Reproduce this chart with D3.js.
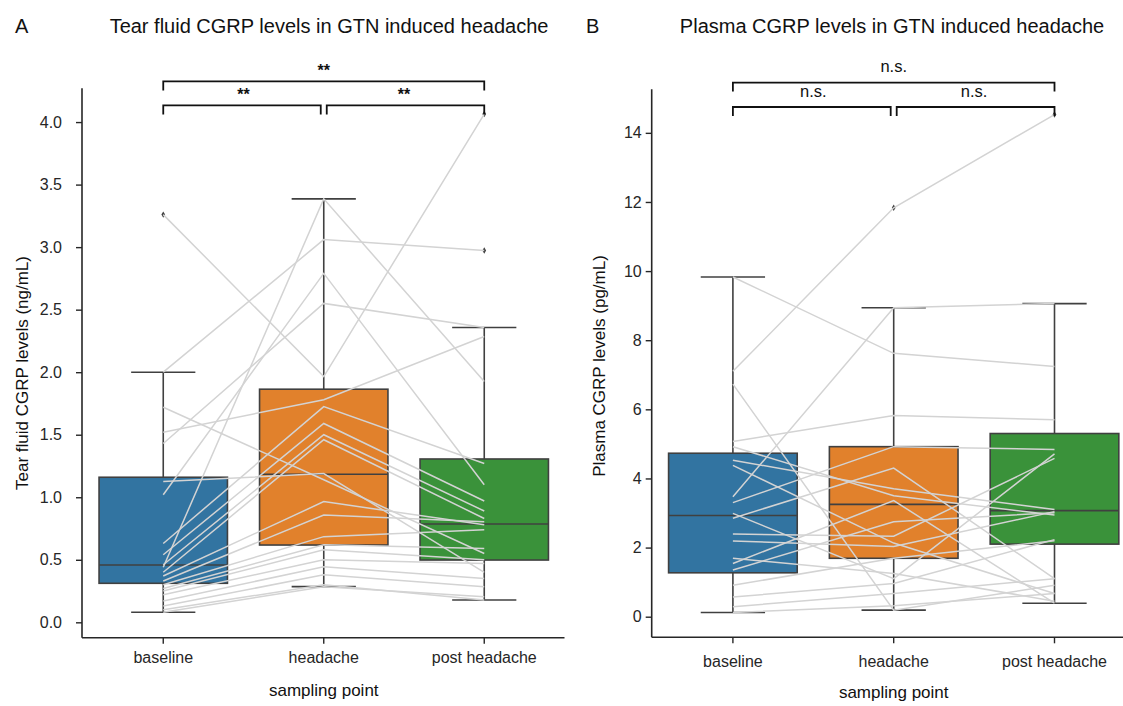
<!DOCTYPE html>
<html>
<head>
<meta charset="utf-8">
<script src="https://cdn.jsdelivr.net/npm/d3@7"></script>
<style>
  body { margin: 0; background: #fff; }
  svg { display: block; font-family: "Liberation Sans", Arial, Helvetica, sans-serif; }
</style>
</head>
<body>
<svg id="chart" width="1123" height="706"></svg>
<script>
// ---- data ----
const categories = ["baseline", "headache", "post headache"];
const boxColors = ["#3274a1", "#e1812c", "#3a923a"];

// Tear fluid (ng/mL), box summary per sampling point
const tearQ1 = [0.312, 0.618, 0.498];
const tearMedian = [0.458, 1.184, 0.786];
const tearQ3 = [1.16, 1.864, 1.306];
const tearWhiskerLow = [0.08, 0.285, 0.178];
const tearWhiskerHigh = [2.0, 3.386, 2.357];
const tearOutliers = [[3.26], [], [2.973, 4.064]];

// Tear fluid, one value per subject
const tearBaseline = [3.26, 2.00, 1.72, 1.52, 1.43, 1.125, 1.02, 0.63, 0.54, 0.46, 0.44, 0.40, 0.37, 0.33, 0.30, 0.27, 0.25, 0.22, 0.17, 0.13, 0.10, 0.08];
const tearHeadache = [1.965, 3.06, 1.14, 1.78, 2.55, 1.19, 2.79, 1.725, 1.59, 1.50, 3.386, 1.46, 0.965, 0.858, 0.685, 0.62, 0.58, 0.50, 0.445, 0.38, 0.30, 0.285];
const tearPost = [4.064, 2.973, 0.55, 2.285, 2.357, 0.40, 1.10, 1.27, 0.97, 0.89, 1.925, 0.83, 0.78, 0.805, 0.74, 0.59, 0.50, 0.47, 0.35, 0.285, 0.178, 0.205];

const tearTicks = [0, 0.5, 1, 1.5, 2, 2.5, 3, 3.5, 4];
const tearSig = [["baseline", "headache", "**", 0], ["headache", "post headache", "**", 0], ["baseline", "post headache", "**", 1]];

// Plasma (pg/mL)
const plasmaQ1 = [1.27, 1.69, 2.10];
const plasmaMedian = [2.93, 3.25, 3.07];
const plasmaQ3 = [4.73, 4.92, 5.30];
const plasmaWhiskerLow = [0.12, 0.19, 0.39];
const plasmaWhiskerHigh = [9.83, 8.94, 9.06];
const plasmaOutliers = [[], [11.83], [14.53]];

const plasmaBaseline = [7.10, 9.83, 6.73, 3.47, 5.07, 4.92, 4.38, 3.30, 2.99, 2.85, 2.39, 2.19, 1.54, 1.35, 0.91, 0.57, 0.29, 0.12, 4.53, 1.69];
const plasmaHeadache = [11.83, 7.62, 0.19, 8.94, 5.82, 3.50, 2.13, 4.92, 1.10, 4.30, 2.33, 2.03, 3.36, 2.75, 1.69, 0.96, 0.67, 0.32, 3.70, 1.25];
const plasmaPost = [14.53, 7.24, 0.91, 9.06, 5.70, 2.94, 0.67, 4.84, 4.71, 1.10, 4.58, 3.04, 0.39, 3.01, 2.20, 2.23, 1.10, 0.67, 3.10, 0.45];

const plasmaTicks = [0, 2, 4, 6, 8, 10, 12, 14];
const plasmaSig = [["baseline", "headache", "n.s.", 0], ["headache", "post headache", "n.s.", 0], ["baseline", "post headache", "n.s.", 1]];

// ---- drawing ----
const svg = d3.select("#chart");
const INK = "#262626";
const EDGE = "#404040";

function drawPanel(o) {
  const g = svg.append("g");

  const x = d3.scaleBand().domain(categories).range(o.xRange).paddingInner(0).paddingOuter(0);
  const y = d3.scaleLinear().domain(o.yDomain).range([o.bottom, o.top]);
  const cx = (c) => x(c) + x.bandwidth() / 2;
  const boxW = x.bandwidth() * 0.8;

  // boxes
  categories.forEach((c, i) => {
    const bx = g.append("g");
    // whiskers
    bx.append("line")
      .attr("x1", cx(c)).attr("x2", cx(c))
      .attr("y1", y(o.q3[i])).attr("y2", y(o.hi[i]))
      .attr("stroke", EDGE).attr("stroke-width", 1.6);
    bx.append("line")
      .attr("x1", cx(c)).attr("x2", cx(c))
      .attr("y1", y(o.q1[i])).attr("y2", y(o.lo[i]))
      .attr("stroke", EDGE).attr("stroke-width", 1.6);
    [o.hi[i], o.lo[i]].forEach((v) => {
      bx.append("line")
        .attr("x1", cx(c) - boxW / 4).attr("x2", cx(c) + boxW / 4)
        .attr("y1", y(v)).attr("y2", y(v))
        .attr("stroke", EDGE).attr("stroke-width", 1.6);
    });
    bx.append("rect")
      .attr("x", cx(c) - boxW / 2)
      .attr("y", y(o.q3[i]))
      .attr("width", boxW)
      .attr("height", y(o.q1[i]) - y(o.q3[i]))
      .attr("fill", boxColors[i])
      .attr("stroke", EDGE).attr("stroke-width", 1.6);
    bx.append("line")
      .attr("x1", cx(c) - boxW / 2).attr("x2", cx(c) + boxW / 2)
      .attr("y1", y(o.median[i])).attr("y2", y(o.median[i]))
      .attr("stroke", EDGE).attr("stroke-width", 1.6);
    // fliers
    o.outliers[i].forEach((v) => {
      bx.append("path")
        .attr("d", d3.symbol(d3.symbolDiamond, 12)())
        .attr("transform", `translate(${cx(c)},${y(v)})`)
        .attr("fill", EDGE);
    });
  });

  // paired subject lines
  const line = d3.line().x((d) => cx(d[0])).y((d) => y(d[1]));
  o.subjects[0].forEach((_v, k) => {
    const pts = categories.map((c, i) => [c, o.subjects[i][k]]);
    g.append("path")
      .attr("d", line(pts))
      .attr("fill", "none")
      .attr("stroke", "#d3d3d3")
      .attr("stroke-width", 1.5);
  });

  // axes
  const yAxis = g.append("g")
    .attr("transform", `translate(${o.spineX},0)`)
    .call(d3.axisLeft(y).tickValues(o.ticks).tickSize(6).tickPadding(o.yPad).tickFormat(o.fmt));
  yAxis.select(".domain").remove();
  yAxis.selectAll(".tick line").attr("stroke", INK).attr("stroke-width", 1.4);
  yAxis.selectAll(".tick text").attr("fill", INK).style("font-size", "16px");

  const xAxis = g.append("g")
    .attr("transform", `translate(0,${o.bottom})`)
    .call(d3.axisBottom(x).tickSize(6).tickPadding(o.xPad));
  xAxis.select(".domain").remove();
  xAxis.selectAll(".tick line").attr("stroke", INK).attr("stroke-width", 1.4);
  xAxis.selectAll(".tick text").attr("fill", INK).style("font-size", "16px");

  // spines
  g.append("line")
    .attr("x1", o.spineX).attr("x2", o.spineX)
    .attr("y1", o.top).attr("y2", o.bottom)
    .attr("stroke", INK).attr("stroke-width", 1.6);
  g.append("line")
    .attr("x1", o.spineX).attr("x2", o.xRange[1])
    .attr("y1", o.bottom).attr("y2", o.bottom)
    .attr("stroke", INK).attr("stroke-width", 1.6);

  // significance brackets
  const inset = (c) => (c === "headache" ? 3 : 0);
  o.sig.forEach(([c1, c2, label, level]) => {
    const by = o.bracketY[level];
    const x1 = cx(c1) + (level === 0 ? inset(c1) : 0);
    const x2 = cx(c2) - (level === 0 ? inset(c2) : 0);
    g.append("path")
      .attr("d", `M${x1},${by + 9}V${by}H${x2}V${by + 9}`)
      .attr("fill", "none")
      .attr("stroke", "#111")
      .attr("stroke-width", 1.8);
    g.append("text")
      .attr("x", (cx(c1) + cx(c2)) / 2)
      .attr("y", by - o.sigOffset)
      .attr("text-anchor", "middle")
      .attr("fill", "#111")
      .style("font-size", o.sigSize)
      .style("font-weight", o.sigWeight)
      .text(label);
  });

  // labels
  g.append("text")
    .attr("x", o.titleX).attr("y", 33)
    .attr("text-anchor", "middle")
    .attr("fill", "#111")
    .style("font-size", "20px")
    .text(o.title);
  g.append("text")
    .attr("x", o.letterX).attr("y", 33)
    .attr("fill", "#111")
    .style("font-size", "20px")
    .text(o.letter);
  g.append("text")
    .attr("transform", `translate(${o.yLabelX},${o.yLabelY}) rotate(-90)`)
    .attr("text-anchor", "middle")
    .attr("fill", "#111")
    .style("font-size", "17px")
    .text(o.yLabel);
  g.append("text")
    .attr("x", (cx(categories[0]) + cx(categories[2])) / 2)
    .attr("y", o.xLabelY)
    .attr("text-anchor", "middle")
    .attr("fill", "#111")
    .style("font-size", "17px")
    .text("sampling point");
}

drawPanel({
  letter: "A", letterX: 15,
  title: "Tear fluid CGRP levels in GTN induced headache", titleX: 329,
  yLabel: "Tear fluid CGRP levels (ng/mL)", yLabelX: 28, yLabelY: 373,
  xRange: [83, 564.5], spineX: 82,
  yDomain: [-0.123, 4.27], top: 88.3, bottom: 637.7,
  ticks: tearTicks, fmt: d3.format(".1f"), yPad: 14, xPad: 8, xLabelY: 696,
  q1: tearQ1, median: tearMedian, q3: tearQ3, lo: tearWhiskerLow, hi: tearWhiskerHigh,
  outliers: tearOutliers,
  subjects: [tearBaseline, tearHeadache, tearPost],
  sig: tearSig, bracketY: [105.4, 81.4], sigOffset: 5, sigSize: "16px", sigWeight: "bold",
});

drawPanel({
  letter: "B", letterX: 586,
  title: "Plasma CGRP levels in GTN induced headache", titleX: 892,
  yLabel: "Plasma CGRP levels (pg/mL)", yLabelX: 605, yLabelY: 366,
  xRange: [652.5, 1134.9], spineX: 651.7,
  yDomain: [-0.596, 15.26], top: 89.3, bottom: 637.3,
  ticks: plasmaTicks, fmt: d3.format("d"), yPad: 4, xPad: 12, xLabelY: 698,
  q1: plasmaQ1, median: plasmaMedian, q3: plasmaQ3, lo: plasmaWhiskerLow, hi: plasmaWhiskerHigh,
  outliers: plasmaOutliers,
  subjects: [plasmaBaseline, plasmaHeadache, plasmaPost],
  sig: plasmaSig, bracketY: [107, 82.6], sigOffset: 10.5, sigSize: "16.5px", sigWeight: "normal",
});
</script>
</body>
</html>
